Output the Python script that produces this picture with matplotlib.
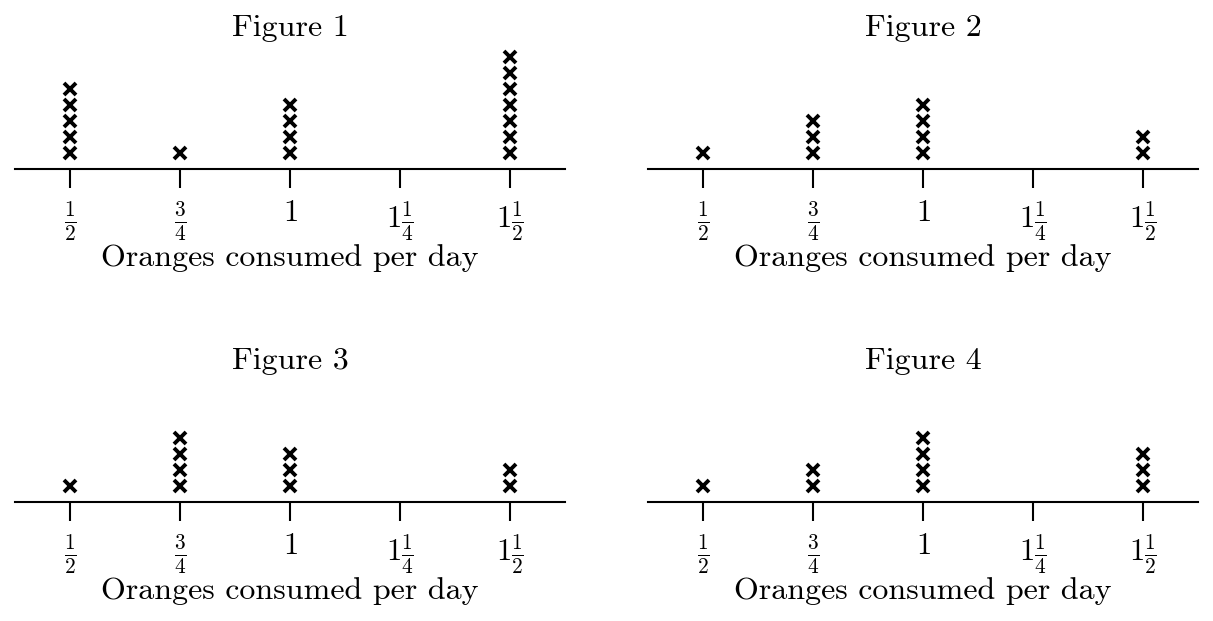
import matplotlib
matplotlib.use("Agg")
import matplotlib.pyplot as plt

plt.rcParams["font.family"] = "serif"
plt.rcParams["font.serif"] = ["cmr10"]
plt.rcParams["mathtext.fontset"] = "cm"
plt.rcParams["axes.formatter.use_mathtext"] = True

# oranges per day (x positions of the ticks)
values = [0.5, 0.75, 1.0, 1.25, 1.5]
tick_labels = [r"$\frac{1}{2}$", r"$\frac{3}{4}$", r"$1$", r"$1\frac{1}{4}$", r"$1\frac{1}{2}$"]

# number of x's above each value
fig1_counts = [5, 1, 4, 0, 7]
fig2_counts = [1, 3, 4, 0, 2]
fig3_counts = [1, 4, 3, 0, 2]
fig4_counts = [1, 2, 4, 0, 3]

titles = ["Figure 1", "Figure 2", "Figure 3", "Figure 4"]
all_counts = [fig1_counts, fig2_counts, fig3_counts, fig4_counts]

W, H = 1213, 621
fig = plt.figure(figsize=(W / 100, H / 100), dpi=100)

# pixel layout: (left edge, axis line y)
spots = [(15, 169), (648, 169), (15, 502), (648, 502)]
ax_w = 550
ax_h = 124

for (left, base), title, counts in zip(spots, titles, all_counts):
    ax = fig.add_axes([left / W, (H - base) / H, ax_w / W, ax_h / H])
    xs = []
    ys = []
    for v, c in zip(values, counts):
        for k in range(c):
            xs.append(v)
            ys.append(k + 1)
    ax.plot(xs, ys, "x", color="black", markersize=8.3, markeredgewidth=2.8)
    ax.set_xlim(0.375, 1.625)
    ax.set_ylim(0, ax_h / 16)

    for s in ["top", "left", "right"]:
        ax.spines[s].set_visible(False)
    ax.spines["bottom"].set_linewidth(1.5)
    ax.set_yticks([])
    ax.set_xticks(values)
    ax.set_xticklabels(tick_labels, fontsize=22)
    ax.tick_params(axis="x", direction="out", length=14, width=1.5, pad=8)
    ax.set_xlabel("Oranges consumed per day", fontsize=23, va="center")
    ax.xaxis.set_label_coords(0.5, -(258 - 169) / ax_h)

    fig.text((left + ax_w / 2) / W, (H - (base - 141)) / H, title,
             fontsize=23, ha="center", va="center")

fig.savefig("out.png", dpi=100)
